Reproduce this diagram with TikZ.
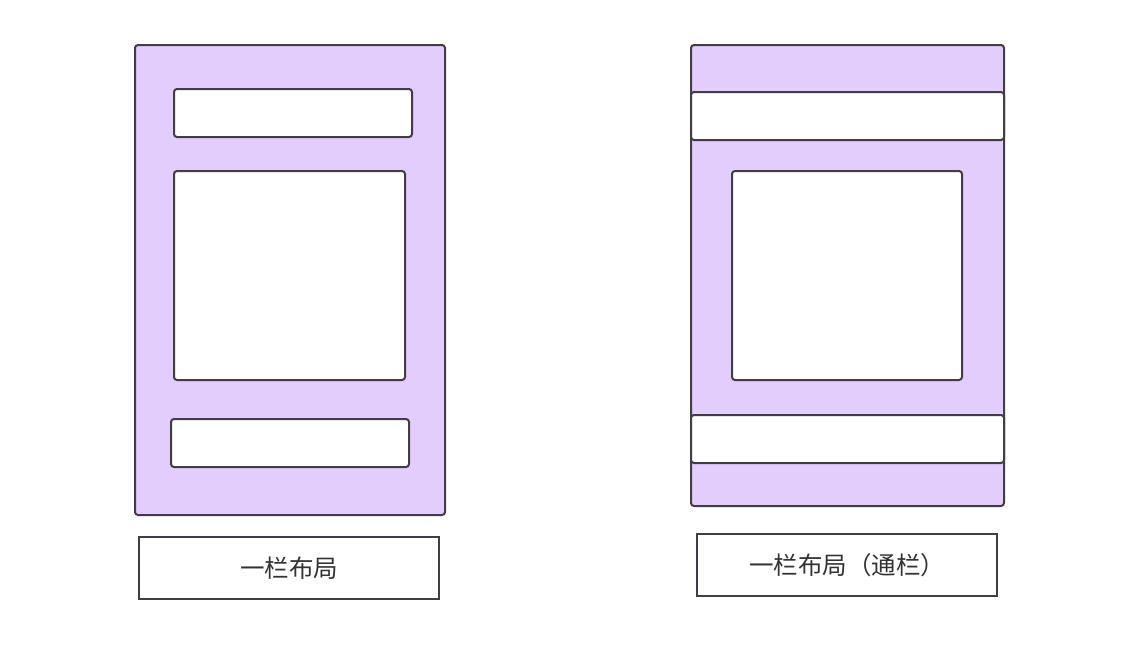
\documentclass[tikz,border=0pt]{standalone}
\usepackage{fontspec}
\usepackage{xcolor}
\usepackage{tikz}
\usetikzlibrary{positioning}
\newfontfamily\cjk{Noto Sans CJK SC}
\definecolor{PageLilac}{RGB}{227,205,252}
\definecolor{EdgeGray}{RGB}{66,60,70}
\definecolor{TextGray}{RGB}{51,51,51}
\tikzset{
    pagebox/.style={rectangle, rounded corners=3pt, draw=EdgeGray, fill=PageLilac, line width=2pt, inner sep=0pt},
    blockbox/.style={rectangle, rounded corners=3pt, draw=EdgeGray, fill=white, line width=2pt, inner sep=0pt},
    labelbox/.style={rectangle, draw=EdgeGray, fill=white, line width=1.6pt, minimum width=300pt, minimum height=62pt, font=\cjk\fontsize{24.5}{28}\selectfont, text=TextGray}
}
\begin{document}
\begin{tikzpicture}[x=1pt, y=-1pt]
    \useasboundingbox (0,0) rectangle (1148,656);

    % --- Trang trái: một cột ---
    \node[pagebox, minimum width=310pt, minimum height=470pt] (leftpage) at (290,280) {};
    % Thanh trên, khối giữa, thanh dưới
    \node[blockbox, minimum width=238pt, minimum height=48pt] (lefthead) at (293,113) {};
    \node[blockbox, minimum width=231pt, minimum height=209pt] (leftbody) at (289.5,275.5) {};
    \node[blockbox, minimum width=238pt, minimum height=48pt] (leftfoot) at (290,443) {};
    % Nhãn
    \node[labelbox] (leftlabel) at (289,568) {一栏布局};

    % --- Trang phải: một cột (thông cột) ---
    \node[pagebox, minimum width=313pt, minimum height=461pt] (rightpage) at (847.5,275.5) {};
    % Thanh trên và dưới chạy hết chiều rộng
    \node[blockbox, minimum width=313pt, minimum height=48pt] (righthead) at (847.5,116) {};
    \node[blockbox, minimum width=230pt, minimum height=209pt] (rightbody) at (847,275.5) {};
    \node[blockbox, minimum width=313pt, minimum height=48pt] (rightfoot) at (847.5,439) {};
    % Nhãn
    \node[labelbox] (rightlabel) at (847,565) {一栏布局（通栏）};
\end{tikzpicture}
\end{document}
